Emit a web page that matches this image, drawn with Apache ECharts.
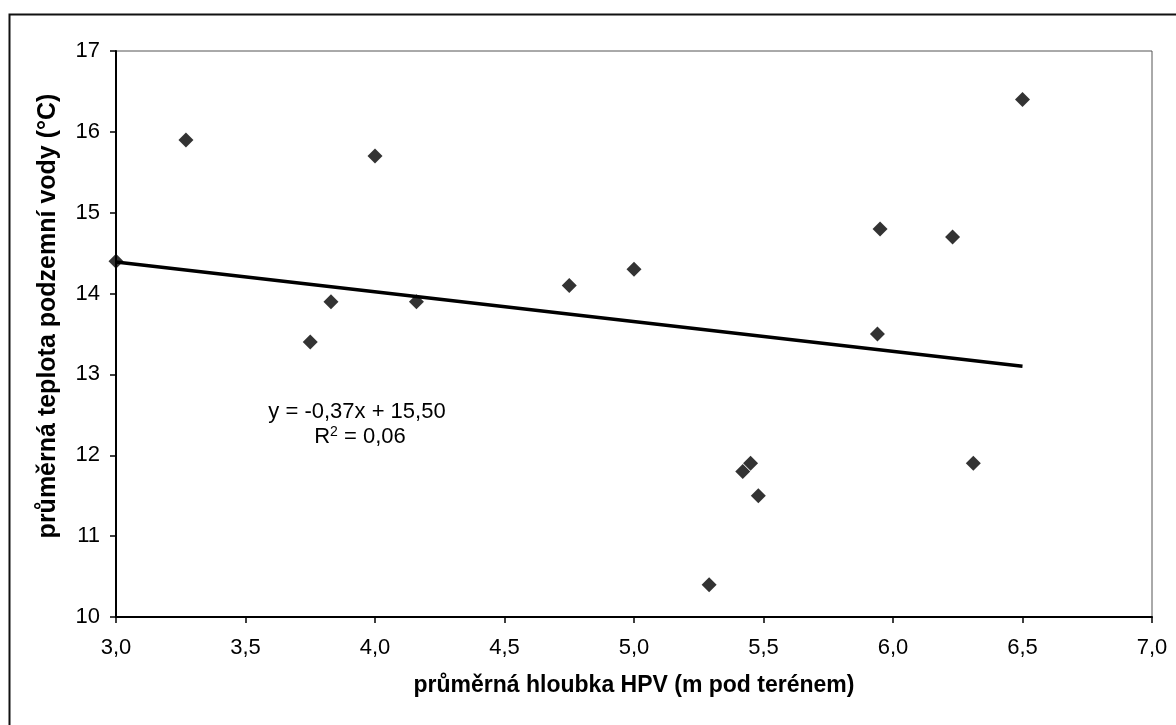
<!DOCTYPE html>
<html>
<head>
<meta charset="utf-8">
<script src="https://cdn.jsdelivr.net/npm/echarts@6/dist/echarts.min.js"></script>
<style>
  html, body { margin: 0; padding: 0; background: #fff; }
  #chart { width: 1176px; height: 725px; }
</style>
</head>
<body>
<div id="chart"></div>
<script>
// hloubka HPV (m) a teplota (°C)
const depth = [3.00, 3.27, 4.00, 3.83, 3.75, 4.16, 4.75, 5.00, 6.50, 5.95, 6.23, 5.94, 6.31, 5.29, 5.48, 5.42, 5.45];
const temp  = [14.4, 15.9, 15.7, 13.9, 13.4, 13.9, 14.1, 14.3, 16.4, 14.8, 14.7, 13.5, 11.9, 10.4, 11.5, 11.8, 11.9];

// konce spojnice trendu
const trendX = [3.0, 6.5];
const trendY = [14.39, 13.10];

const xTickLabels = ['3,0', '3,5', '4,0', '4,5', '5,0', '5,5', '6,0', '6,5', '7,0'];
const yTickLabels = ['10', '11', '12', '13', '14', '15', '16', '17'];

const FONT = 'Liberation Sans, Arial, sans-serif';

const points = depth.map((d, i) => [d, temp[i]]);
const trend = trendX.map((d, i) => [d, trendY[i]]);

const chart = echarts.init(document.getElementById('chart'));

chart.setOption({
    animation: false,
    backgroundColor: '#fff',
    grid: {
        left: 116, top: 51, right: 24, bottom: 108,
        show: true,
        borderColor: '#555',
        borderWidth: 1
    },
    xAxis: {
        type: 'value',
        min: 3, max: 7, interval: 0.5,
        name: 'průměrná hloubka HPV (m pod terénem)',
        nameLocation: 'middle',
        nameGap: 57,
        nameTextStyle: { fontFamily: FONT, fontSize: 23, fontWeight: 'bold', color: '#000' },
        axisLine: { lineStyle: { color: '#000', width: 2 } },
        axisTick: { show: true, inside: false, length: 6, lineStyle: { color: '#000', width: 1.5 } },
        axisLabel: {
            fontFamily: FONT, fontSize: 22, color: '#000', margin: 20,
            formatter: v => xTickLabels[Math.round((v - 3) / 0.5)]
        },
        splitLine: { show: false }
    },
    yAxis: {
        type: 'value',
        min: 10, max: 17, interval: 1,
        axisLine: { show: true, lineStyle: { color: '#000', width: 2 } },
        axisTick: { show: true, inside: false, length: 6, lineStyle: { color: '#000', width: 1.5 } },
        axisLabel: {
            fontFamily: FONT, fontSize: 22, color: '#000', margin: 16,
            formatter: v => yTickLabels[Math.round(v - 10)]
        },
        splitLine: { show: false }
    },
    graphic: [
        {
            type: 'rect',
            silent: true,
            z: -1,
            shape: { x: 9.5, y: 14.5, width: 1200, height: 760 },
            style: { fill: 'none', stroke: '#111', lineWidth: 2 }
        },
        {
            // popisek osy y - v originále posunutý nad střed
            type: 'text',
            silent: true,
            x: 48, y: 316,
            rotation: Math.PI / 2,
            style: {
                text: 'průměrná teplota podzemní vody (°C)',
                font: 'bold 25px ' + FONT,
                fill: '#000',
                align: 'center',
                verticalAlign: 'middle'
            }
        },
        {
            type: 'text',
            silent: true,
            x: 357, y: 412,
            style: {
                text: 'y = -0,37x + 15,50',
                font: '22px ' + FONT,
                fill: '#000',
                align: 'center',
                verticalAlign: 'middle'
            }
        },
        {
            type: 'text',
            silent: true,
            x: 360, y: 437,
            style: {
                text: 'R{sup|2} = 0,06',
                font: '22px ' + FONT,
                fill: '#000',
                align: 'center',
                verticalAlign: 'middle',
                rich: {
                    sup: { fontSize: 14, fontFamily: FONT, verticalAlign: 'top', padding: [0, 0, 10, 0] }
                }
            }
        }
    ],
    series: [
        {
            type: 'line',
            data: trend,
            showSymbol: false,
            symbol: 'none',
            lineStyle: { color: '#000', width: 3.5 },
            silent: true,
            z: 2
        },
        {
            type: 'scatter',
            data: points,
            symbol: 'diamond',
            symbolSize: [15, 15],
            itemStyle: { color: '#000' },
            clip: false,
            z: 3
        }
    ]
});
</script>
</body>
</html>
